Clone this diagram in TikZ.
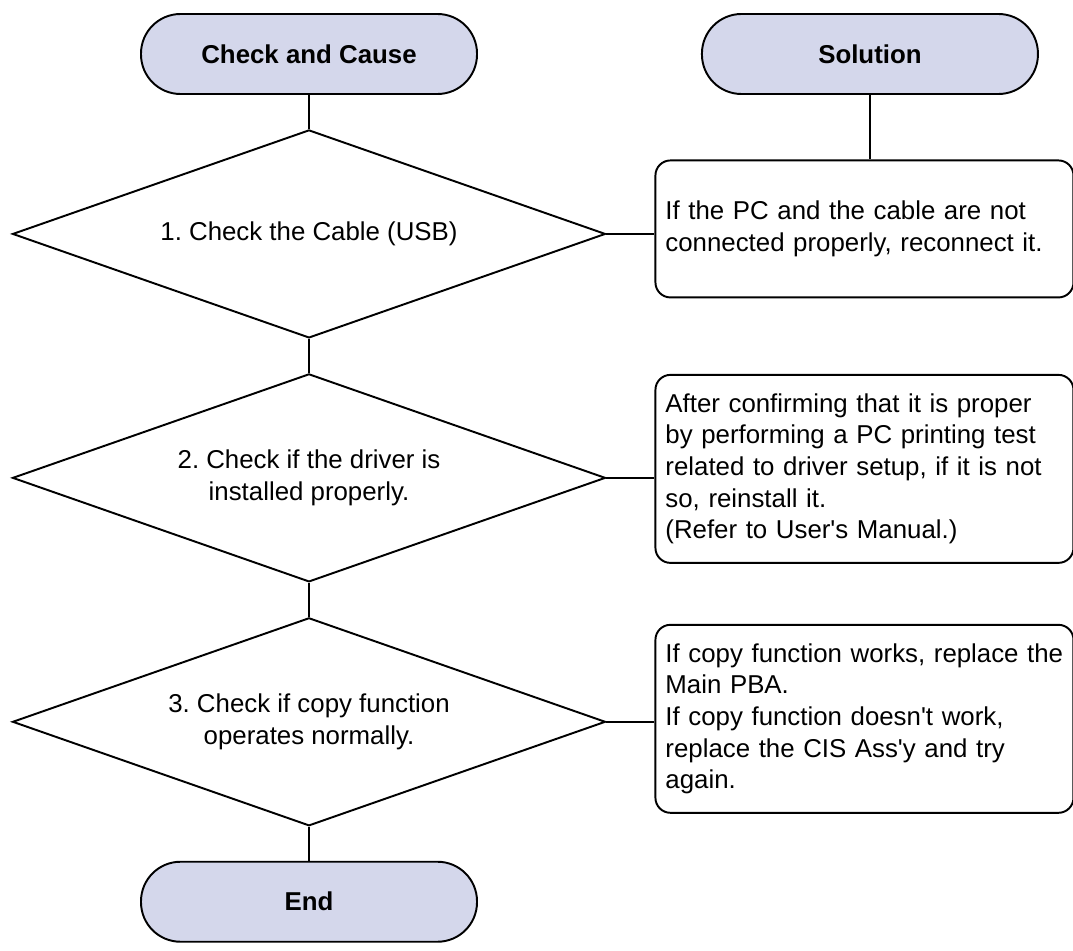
\documentclass[tikz,border=0pt]{standalone}
\usepackage{fontspec}
\setmainfont{Liberation Sans}
\usepackage{tikz}
\usetikzlibrary{shapes,positioning,calc}
\definecolor{termfill}{RGB}{212,215,235}
\frenchspacing

\begin{document}
\begin{tikzpicture}[
  node distance=0.68cm,
  every node/.style={font=\fontsize{14.7}{18}\selectfont},
  term/.style={rectangle, rounded corners=0.79cm, draw, fill=termfill, line width=1.1pt, minimum width=6.72cm, minimum height=1.6cm, font=\fontsize{14.7}{18}\selectfont\bfseries},
  check/.style={diamond, aspect=2.85, draw, line width=1.1pt, minimum width=11.86cm, minimum height=4.16cm, inner sep=0pt, align=center},
  sol/.style={rectangle, rounded corners=0.3cm, draw, line width=1.1pt, minimum width=8.36cm, text width=7.96cm, inner xsep=0.2cm, align=left},
  link/.style={line width=1.1pt}]
\useasboundingbox (0,0) rectangle (21.46,-19);
\node[term] (cause) at (6.18,-1.08) {Check and Cause};
\node[term, right=4.46cm of cause] (solution) {Solution};
\node[check, below=of cause] (c1) {1. Check the Cable (USB)};
\node[check, below=of c1] (c2) {2. Check if the driver is\\installed properly.};
\node[check, below=of c2] (c3) {3. Check if copy function\\operates normally.};
\node[term, below=of c3] (end) {End};
\node[sol, right=0.96cm of c1, yshift=0.1cm, minimum height=2.74cm] (s1) {If the PC and the cable are not\\connected properly, reconnect it.};
\node[sol, right=0.96cm of c2, yshift=0.18cm, minimum height=3.76cm] (s2) {After confirming that it is proper\\by performing a PC printing test\\related to driver setup, if it is not\\so, reinstall it.\\(Refer to User\textquotesingle s Manual.)};
\node[sol, right=0.96cm of c3, yshift=0.06cm, minimum height=3.76cm] (s3) {If copy function works, replace the\\Main PBA.\\If copy function doesn\textquotesingle t work,\\replace the CIS Ass\textquotesingle y and try\\again.};
\draw[link] (cause) -- (c1);
\draw[link] (c1) -- (c2);
\draw[link] (c2) -- (c3);
\draw[link] (c3) -- (end);
\draw[link] (solution) -- (solution |- s1.north);
\draw[link] (c1.east) -- (c1.east -| s1.west);
\draw[link] (c2.east) -- (c2.east -| s2.west);
\draw[link] (c3.east) -- (c3.east -| s3.west);
\end{tikzpicture}
\end{document}
